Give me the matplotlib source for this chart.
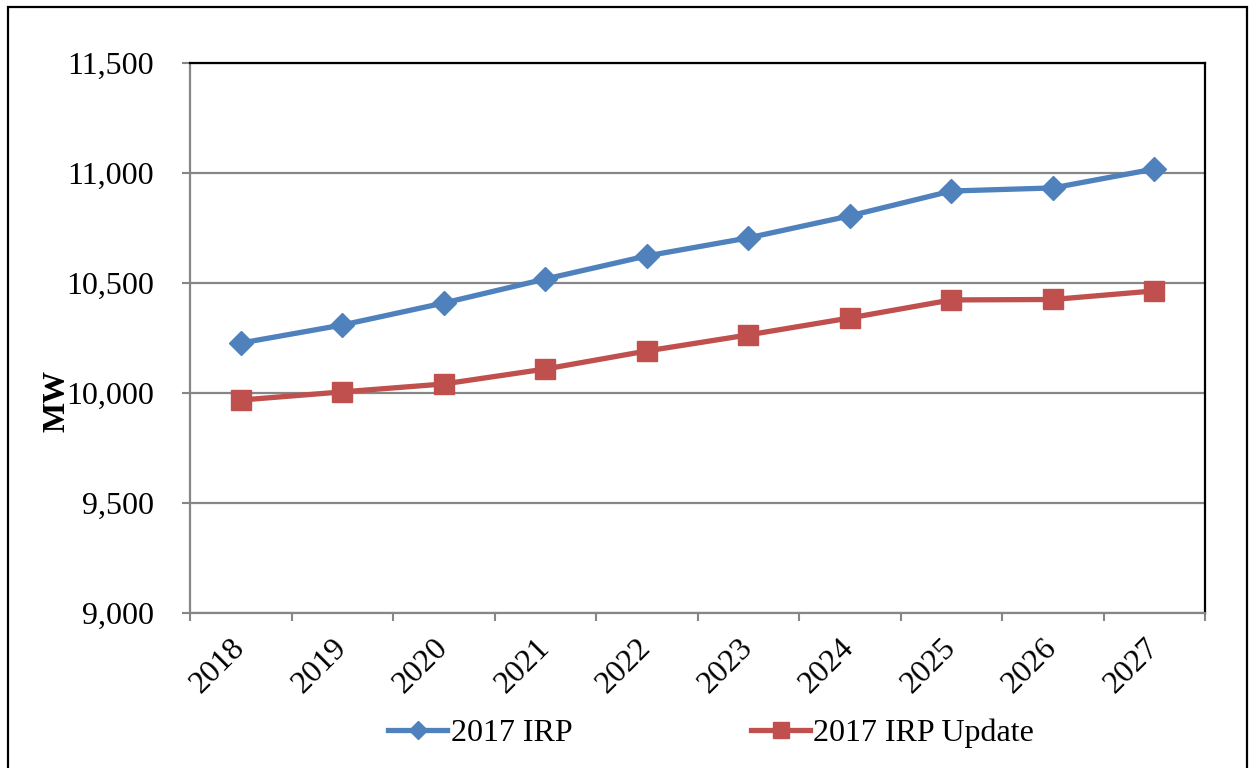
import matplotlib
matplotlib.use("Agg")
import matplotlib.pyplot as plt
from matplotlib.patches import Rectangle
from matplotlib.ticker import FuncFormatter

years = ["2018", "2019", "2020", "2021", "2022", "2023", "2024", "2025", "2026", "2027"]
irp_2017 = [10227, 10309, 10409, 10518, 10623, 10705, 10805, 10918, 10932, 11018]
irp_update = [9968, 10005, 10041, 10109, 10191, 10264, 10341, 10423, 10425, 10464]

y_ticks = [9000, 9500, 10000, 10500, 11000, 11500]

blue = "#4F81BD"
red = "#C0504D"
grid_gray = "#868686"

plt.rcParams['font.family'] = ['Liberation Serif', 'DejaVu Serif']

fig = plt.figure(figsize=(12.5, 7.68), dpi=100)
ax = fig.add_axes([0.152, 0.2018, 0.812, 0.7162])

x = list(range(len(years)))
ax.plot(x, irp_2017, color=blue, lw=3.8, marker='D', ms=12.5, label="2017 IRP")
ax.plot(x, irp_update, color=red, lw=3.8, marker='s', ms=15, label="2017 IRP Update")

ax.set_xlim(-0.5, len(years) - 0.5)
ax.set_ylim(9000, 11500)
ax.set_yticks(y_ticks)
ax.yaxis.set_major_formatter(FuncFormatter(lambda v, p: f"{int(v):,}"))
ax.grid(axis='y', color=grid_gray, lw=1.6)
ax.set_axisbelow(True)

# category labels sit between the boundary ticks
ax.set_xticks([i - 0.5 for i in range(len(years) + 1)])
ax.set_xticklabels([])
ax.set_xticks(x, minor=True)
ax.set_xticklabels(years, minor=True, rotation=45, ha='right', va='center',
                   rotation_mode='anchor', fontsize=23)
ax.tick_params(axis='x', which='minor', length=0, pad=22)
ax.tick_params(axis='x', which='major', length=6, width=1.5, color=grid_gray, direction='out')
ax.tick_params(axis='y', length=6, width=1.5, color=grid_gray, direction='out',
               labelsize=23, pad=20)

for s in ['left', 'bottom']:
    ax.spines[s].set_color(grid_gray)
    ax.spines[s].set_linewidth(1.6)
for s in ['top', 'right']:
    ax.spines[s].set_color('black')
    ax.spines[s].set_linewidth(1.6)

ax.set_ylabel("MW", fontsize=23, fontweight='bold')
ax.yaxis.set_label_coords(-0.117, 0.385)

fig.legend(loc='center', bbox_to_anchor=(0.569, 0.0456), ncol=2, frameon=False,
           fontsize=23, handlelength=1.85, handletextpad=0.1, columnspacing=5.6,
           markerscale=0.75)

# outer frame of the figure
fig.add_artist(Rectangle((0.0064, -0.02), 0.9912, 1.0109, transform=fig.transFigure,
                         fill=False, edgecolor='black', lw=1.6))

fig.savefig("out.png", dpi=100)
